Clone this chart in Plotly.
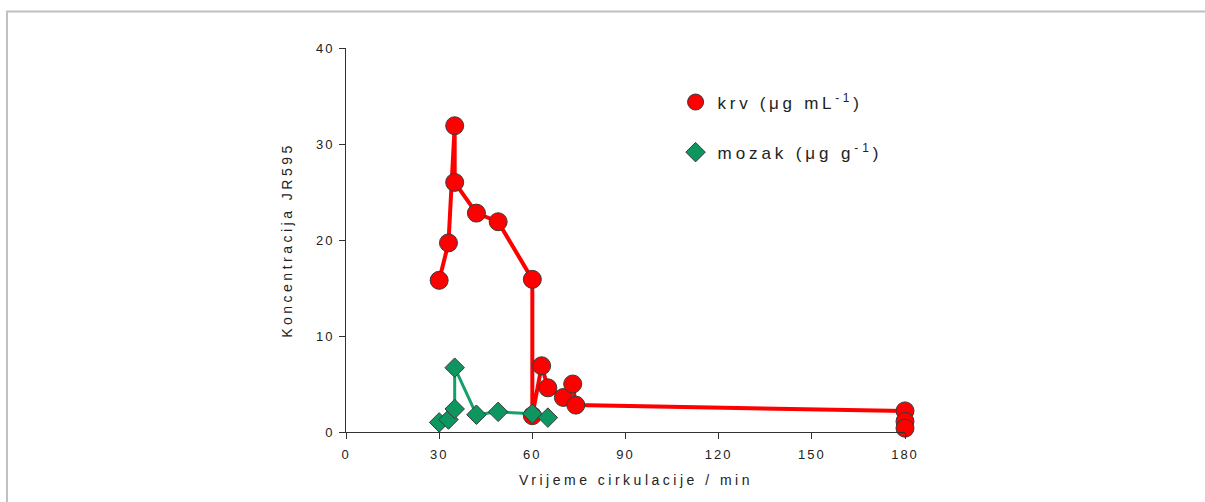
import plotly.graph_objects as go

# vrijeme cirkulacije (min) i koncentracija JR595
krv_x = [30, 33, 35, 35, 42, 49, 60, 60, 63, 65, 70, 73, 74, 180, 180, 180]
krv_y = [15.8, 19.7, 31.9, 26.0, 22.8, 21.9, 15.9, 1.7, 6.9, 4.6, 3.6, 5.0, 2.8, 2.2, 1.1, 0.4]

mozak_x = [30, 33, 35, 35, 42, 49, 60, 65]
mozak_y = [1.0, 1.3, 2.4, 6.7, 1.8, 2.1, 1.9, 1.5]

x_ticks = [0, 30, 60, 90, 120, 150, 180]
y_ticks = [0, 10, 20, 30, 40]

FONT = "Liberation Sans, Arial, sans-serif"


def spaced(text, px):
    return '<span style="letter-spacing:%spx">%s</span>' % (px, text)


red_marker = dict(symbol="circle", size=18, color="#ff0000",
                  line=dict(color="#3a3a3a", width=1))
green_marker = dict(symbol="diamond", size=15, color="#0e9660",
                    line=dict(color="#3a3a3a", width=1))

fig = go.Figure()
fig.add_trace(go.Scatter(
    x=krv_x, y=krv_y, mode="lines+markers",
    line=dict(color="#ff0000", width=4),
    marker=red_marker, cliponaxis=False, showlegend=False,
))
fig.add_trace(go.Scatter(
    x=mozak_x, y=mozak_y, mode="lines+markers",
    line=dict(color="#15a06a", width=3),
    marker=green_marker, cliponaxis=False, showlegend=False,
))
# legenda samo sa simbolima
fig.add_trace(go.Scatter(
    x=[None], y=[None], mode="markers", marker=red_marker,
    name=spaced("krv (μg mL<sup>-1</sup>)", 3.7), legendgroup="a",
))
fig.add_trace(go.Scatter(
    x=[None], y=[None], mode="markers", marker=green_marker,
    name=spaced("mozak (μg g<sup>-1</sup>)", 3.9), legendgroup="b",
))

# sivi okvir oko slike
fig.add_shape(type="rect", xref="paper", yref="paper",
              x0=-0.6065, x1=1.6, y0=-0.4, y1=1.095,
              line=dict(color="#c0c0c0", width=2), fillcolor="rgba(0,0,0,0)",
              layer="below")

# naslov x osi kao anotacija (malo desno od sredine, kao na originalu)
fig.add_annotation(
    text=spaced("Vrijeme cirkulacije / min", 3.5),
    xref="paper", yref="paper", x=0.519, y=-0.125,
    xanchor="center", yanchor="middle", showarrow=False,
    font=dict(family=FONT, size=14, color="#222222"),
)

fig.update_layout(
    width=1205, height=502,
    margin=dict(l=346, r=300, t=48, b=70),
    paper_bgcolor="white", plot_bgcolor="white",
    font=dict(family=FONT, size=13, color="#222222"),
    showlegend=True,
    legend=dict(x=0.586, y=0.905, xanchor="left", yanchor="top",
                font=dict(family=FONT, size=17, color="#222222"),
                traceorder="grouped", tracegroupgap=25, itemwidth=34,
                bgcolor="rgba(0,0,0,0)"),
)
fig.update_xaxes(
    range=[0, 180], tickvals=x_ticks,
    ticktext=[spaced(str(v), 2) for v in x_ticks],
    showgrid=False, zeroline=False,
    showline=True, linecolor="#333333", linewidth=1,
    ticks="outside", ticklen=6, tickcolor="#333333", ticklabelstandoff=4,
)
fig.update_yaxes(
    range=[0, 40], tickvals=y_ticks,
    ticktext=[spaced(str(v), 2) for v in y_ticks],
    showgrid=False, zeroline=False,
    showline=True, linecolor="#333333", linewidth=1,
    ticks="outside", ticklen=6, tickcolor="#333333", ticklabelstandoff=2,
    title=dict(text=spaced("Koncentracija JR595", 3.5), standoff=20,
               font=dict(family=FONT, size=14)),
)

fig.write_html("out.html", config={"displayModeBar": False},
               post_script="document.body.style.margin='0';")
